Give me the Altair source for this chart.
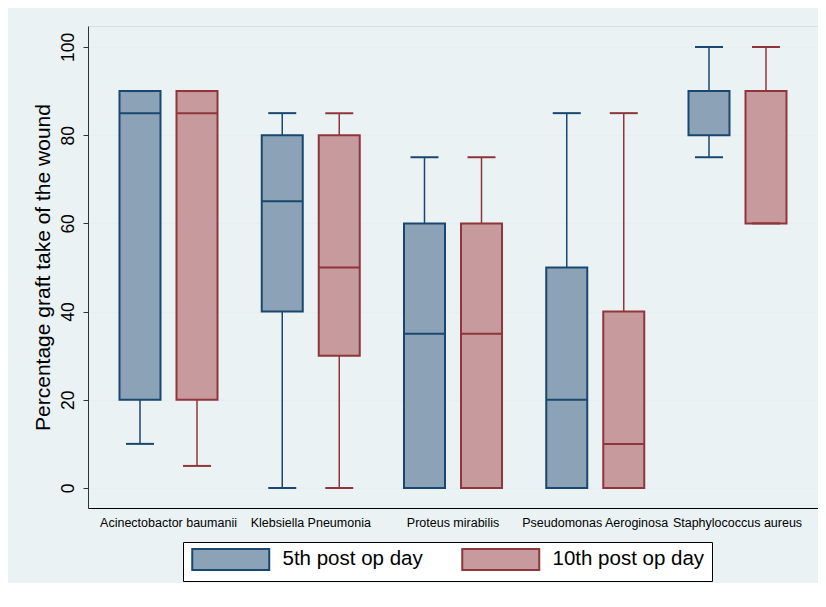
import altair as alt
import pandas as pd

categories = ["Acinectobactor baumanii", "Klebsiella Pneumonia", "Proteus mirabilis",
              "Pseudomonas Aeroginosa", "Staphylococcus aureus"]
series_names = ["5th post op day", "10th post op day"]

lo_5 = [10, 0, 0, 0, 75]
q1_5 = [20, 40, 0, 0, 80]
med_5 = [85, 65, 35, 20, 90]
q3_5 = [90, 80, 60, 50, 90]
hi_5 = [90, 85, 75, 85, 100]

lo_10 = [5, 0, 0, 0, 60]
q1_10 = [20, 30, 0, 0, 60]
med_10 = [85, 50, 35, 10, 90]
q3_10 = [90, 80, 60, 40, 90]
hi_10 = [90, 85, 75, 85, 100]

y_ticks = [0, 20, 40, 60, 80, 100]

fill_colors = ["#8ca3b7", "#c79a9d"]
line_colors = ["#1a476f", "#90353b"]

rows = []
for i, c in enumerate(categories):
    rows.append(dict(organism=c, series=series_names[0], lo=lo_5[i], q1=q1_5[i],
                     med=med_5[i], q3=q3_5[i], hi=hi_5[i]))
    rows.append(dict(organism=c, series=series_names[1], lo=lo_10[i], q1=q1_10[i],
                     med=med_10[i], q3=q3_10[i], hi=hi_10[i]))
df = pd.DataFrame(rows)

FONT = "Liberation Sans"

x = alt.X("organism:N", sort=categories,
          scale=alt.Scale(paddingInner=0, paddingOuter=0.0659),
          axis=alt.Axis(title=None, labelAngle=0, labelFontSize=12.5, labelPadding=8,
                        ticks=False, domainColor="#000", domainWidth=1, grid=False,
                        labelColor="#000", labelFont=FONT))
xoff = alt.XOffset("series:N", sort=series_names,
                   scale=alt.Scale(paddingInner=0.2807, paddingOuter=0.3881))

yscale = alt.Scale(domain=[-4.54, 104.76], nice=False, zero=False)
yaxis = alt.Axis(title="Percentage graft take of the wound", values=y_ticks,
                 labelAngle=270, labelAlign="center", labelBaseline="bottom",
                 labelFontSize=17.5, labelPadding=6, labelColor="#000", labelFont=FONT,
                 tickSize=5, tickColor="#333", domainColor="#333", domainWidth=1,
                 grid=True, gridColor="#e6eef0", gridWidth=1.5,
                 titleFontSize=21, titleFontWeight="normal", titleColor="#000",
                 titleFont=FONT, titlePadding=6)


def Y(field):
    return alt.Y(field, scale=yscale, axis=yaxis)


color_enc = alt.Color("series:N", sort=series_names,
                      scale=alt.Scale(domain=series_names, range=line_colors), legend=None)

legend = alt.Legend(title=None, orient="none", legendX=95, legendY=516,
                    direction="horizontal",
                    symbolType="M-1,-1.3125H8.625V1.3125H-1Z", symbolSize=256,
                    symbolStrokeWidth=2, symbolOpacity=1,
                    labelFontSize=20.5, labelOffset=72, labelFont=FONT, labelColor="#000",
                    columnPadding=35, padding=7, strokeColor="#000", fillColor="#fff")

base = alt.Chart(df)

boxes = base.mark_bar(strokeWidth=2, opacity=1).encode(
    x=x, xOffset=xoff, y=Y("q1:Q"), y2="q3:Q",
    fill=alt.Fill("series:N", sort=series_names,
                  scale=alt.Scale(domain=series_names, range=fill_colors), legend=legend),
    stroke=alt.Stroke("series:N", sort=series_names,
                      scale=alt.Scale(domain=series_names, range=line_colors), legend=legend))
whisk_lo = base.mark_rule(strokeWidth=1.5).encode(x=x, xOffset=xoff, y=Y("lo:Q"), y2="q1:Q",
                                                   color=color_enc)
whisk_hi = base.mark_rule(strokeWidth=1.5).encode(x=x, xOffset=xoff, y=Y("q3:Q"), y2="hi:Q",
                                                   color=color_enc)
medians = base.mark_tick(thickness=2, size=41, opacity=1).encode(
    x=x, xOffset=xoff, y=Y("med:Q"), color=color_enc)
cap_lo = base.mark_tick(thickness=2, size=28, opacity=1).encode(
    x=x, xOffset=xoff, y=Y("lo:Q"), color=color_enc)
cap_hi = base.mark_tick(thickness=2, size=28, opacity=1).encode(
    x=x, xOffset=xoff, y=Y("hi:Q"), color=color_enc)

chart = alt.layer(boxes, whisk_lo, whisk_hi, medians, cap_lo, cap_hi).properties(
    width=730, height=482,
    autosize=alt.AutoSizeParams(type="none"),
    padding={"left": 80, "top": 18, "right": 0, "bottom": 75},
    background="#eaf2f3",
).configure_view(stroke=None, fill="white").configure(font=FONT)

chart.save("out.html", embed_options={"renderer": "svg", "actions": False})
